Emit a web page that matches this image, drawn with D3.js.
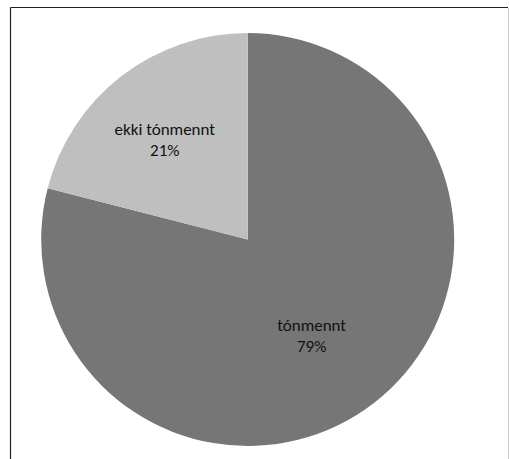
<!DOCTYPE html>
<html><head><meta charset="utf-8">
<script src="https://cdn.jsdelivr.net/npm/d3@7"></script>
<style>body{margin:0;background:#fff}svg{display:block}</style>
</head><body>
<svg id="chart" width="509" height="459"></svg>
<script>
const categories = ["tónmennt", "ekki tónmennt"];
const values = [79, 21];
const percentLabels = ["79%", "21%"];
const colors = ["#767676", "#bfbfbf"];

const svg = d3.select("#chart");
const W = 509, H = 459;
// frame
svg.append("line").attr("x1",10.5).attr("y1",7.5).attr("x2",508).attr("y2",7.5).attr("stroke","#222").attr("stroke-width",1.2);
svg.append("line").attr("x1",10.5).attr("y1",7.5).attr("x2",10.5).attr("y2",H).attr("stroke","#222").attr("stroke-width",1.2);
svg.append("line").attr("x1",508.5).attr("y1",8).attr("x2",508.5).attr("y2",H).attr("stroke","#ccc").attr("stroke-width",1);

const cx = 247.7, cy = 239.5, r = 206.5;
const g = svg.append("g").attr("transform", `translate(${cx},${cy})`);
const pie = d3.pie().sort(null).value(d => d);
const arcs = pie(values);
const arc = d3.arc().innerRadius(0).outerRadius(r);
g.selectAll("path").data(arcs).enter().append("path")
  .attr("d", arc).attr("fill", (d,i) => colors[i]);

const labelArc = d3.arc().innerRadius(r*0.6).outerRadius(r*0.6);
const labelShift = [[-12, 4], [-7, 3]];
const lbl = g.selectAll("text").data(arcs).enter().append("text")
  .attr("transform", (d,i) => { const c = labelArc.centroid(d); return `translate(${c[0]+labelShift[i][0]},${c[1]+labelShift[i][1]})`; })
  .attr("text-anchor","middle")
  .style("font-family","Carlito, 'Open Sans', 'Liberation Sans', sans-serif")
  .style("font-size","17px").attr("fill","#111");
lbl.append("tspan").attr("x",0).attr("y",-10).text((d,i) => categories[i]);
lbl.append("tspan").attr("x",0).attr("y",11).text((d,i) => percentLabels[i]);
</script>
</body></html>
